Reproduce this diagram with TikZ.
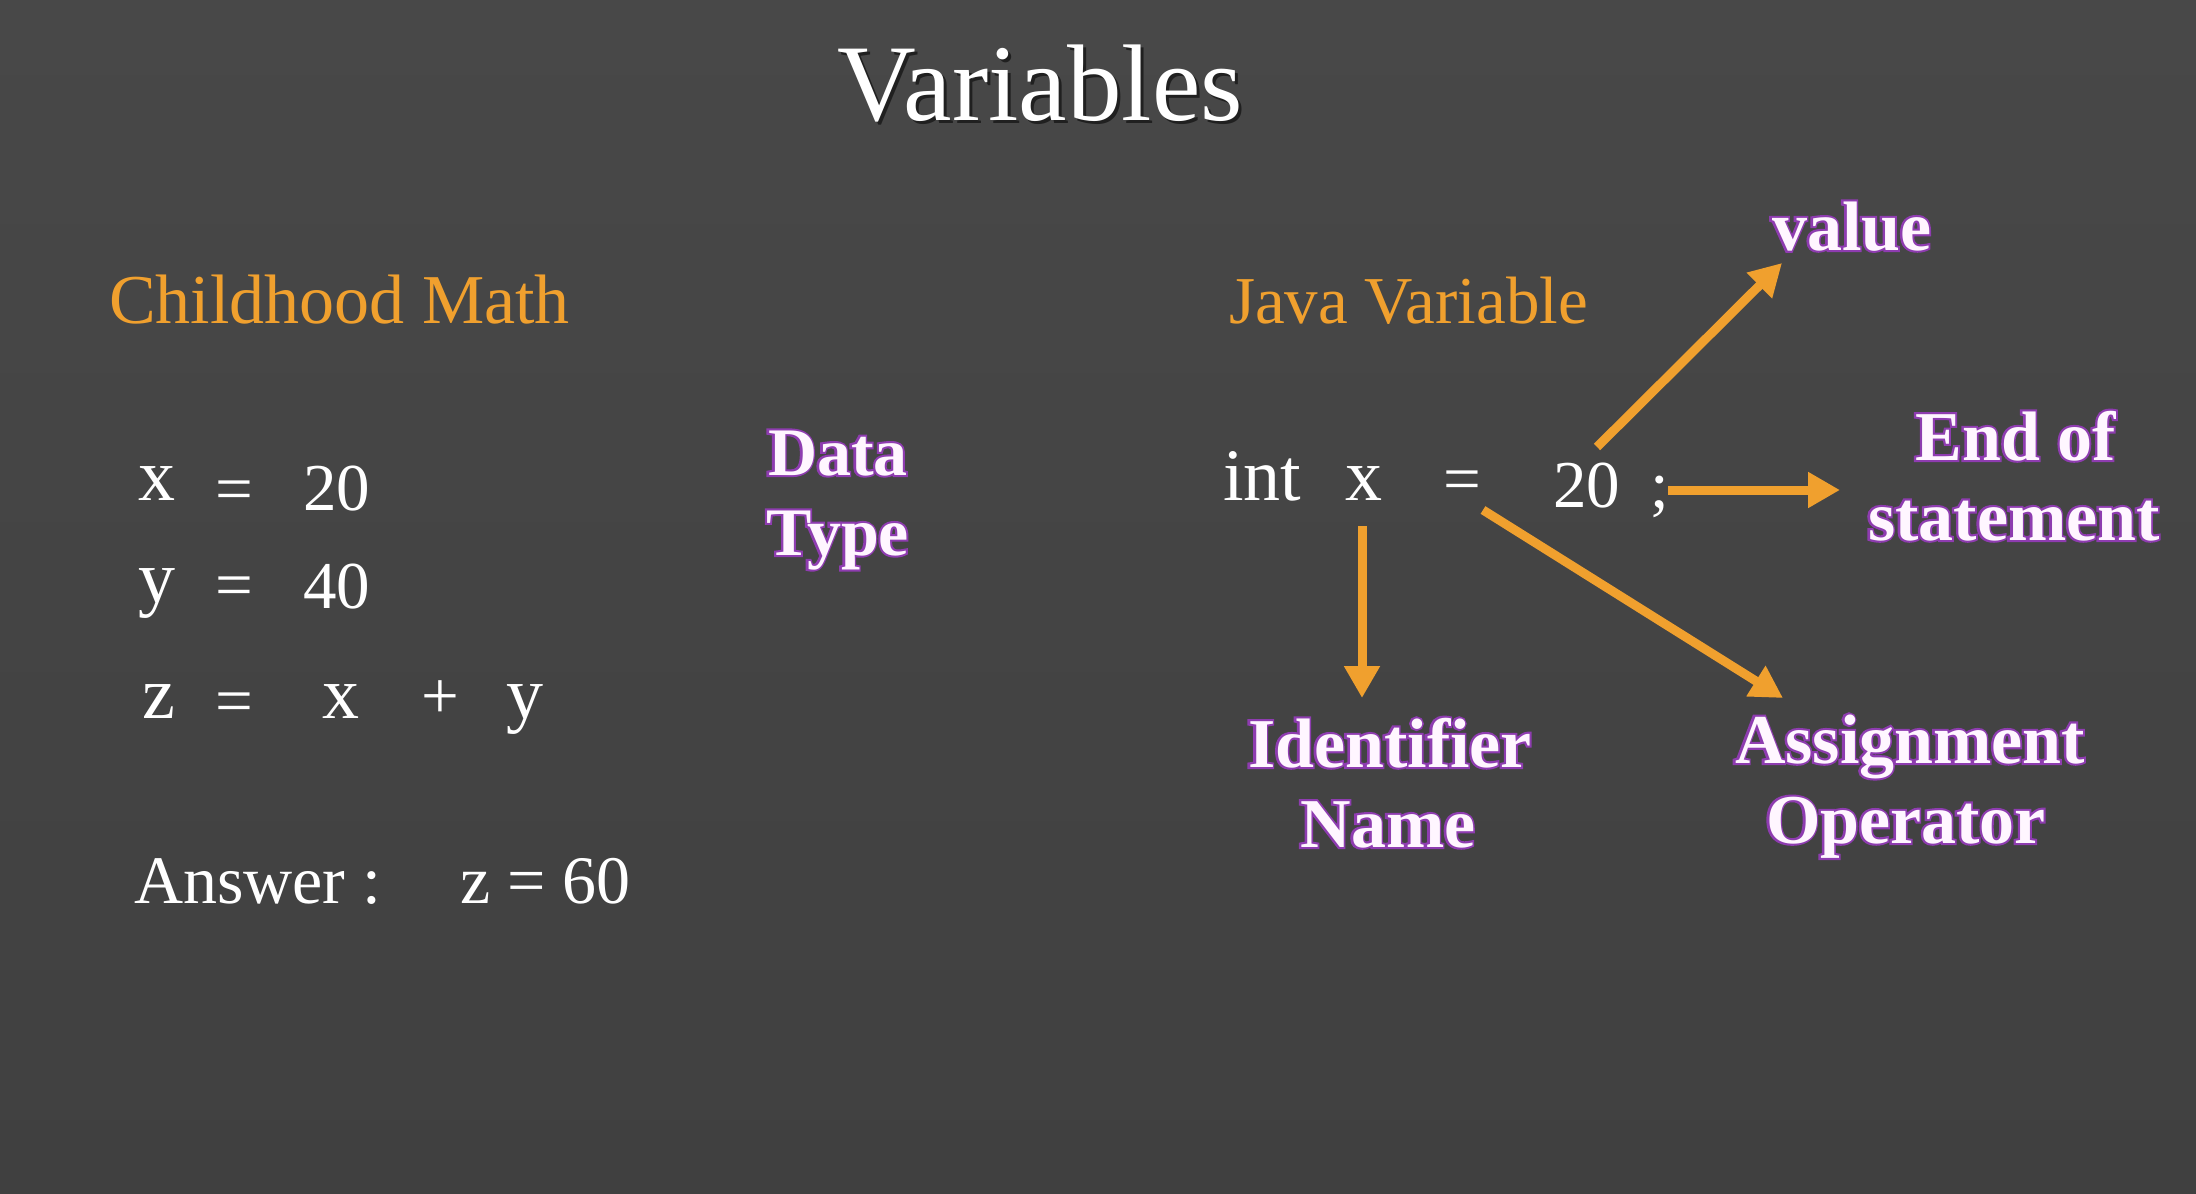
\documentclass[tikz,border=0pt]{standalone}
\usepackage{fontspec}
\setmainfont{Liberation Serif}
% emboldened copy used as the purple rim behind the label text
\newfontfamily\halofont[FakeBold=6]{Liberation Serif Bold}
\usetikzlibrary{arrows.meta}

\definecolor{bgtop}{HTML}{484848}
\definecolor{bgbot}{HTML}{404040}
\definecolor{accent}{HTML}{F0A02E}
\definecolor{halo}{HTML}{8E3CB0}
\definecolor{labelfill}{HTML}{FFF6FF}

\newcommand\fs[1]{\fontsize{#1}{#1}\selectfont}

% two-layer purple-rimmed label: name, position, size, text
\newcommand\rimlabel[4]{%
  \node[lbl, text=halo] (#1-rim) at ($(#2)+(-1,0)$) {\halofont\fs{#3}#4};
  \node[lbl, text=labelfill] (#1) at (#2) {\bfseries\fs{#3}#4};}

\usetikzlibrary{calc}

\tikzset{
  txt/.style={inner sep=0pt, outer sep=0pt, anchor=base west, text=white},
  lbl/.style={inner sep=0pt, outer sep=0pt, anchor=base},
  heading/.style={txt, text=accent},
  pointer/.style={draw=accent, line width=9pt, line cap=butt,
                  -{Triangle[length=32pt, width=34pt]}},
}

\begin{document}
\begin{tikzpicture}[x=1pt, y=-1pt]
  \useasboundingbox (0,0) rectangle (2196,1194);
  \shade[top color=bgtop, bottom color=bgbot] (0,0) rectangle (2196,1194);

  % title
  \node[lbl, text=black, opacity=0.55] (title-shadow) at (1043,123) {\fs{109}Variables};
  \node[lbl, text=white] (title) at (1040,120) {\fs{109}Variables};

  % left column: childhood maths
  \node[heading] (chm) at (109,323) {\fs{70}Childhood Math};

  \node[txt] (r1x)  at (138,500) {\fs{74}x};
  \node[txt] (r1eq) at (215,511) {\fs{67}=};
  \node[txt] (r1v)  at (303,510) {\fs{67}20};

  \node[txt] (r2y)  at (138,602) {\fs{74}y};
  \node[txt] (r2eq) at (215,607) {\fs{67}=};
  \node[txt] (r2v)  at (303,608) {\fs{67}40};

  \node[txt] (r3z)  at (142,718) {\fs{74}z};
  \node[txt] (r3eq) at (215,723) {\fs{67}=};
  \node[txt] (r3x)  at (322,718) {\fs{74}x};
  \node[txt] (r3p)  at (421,718) {\fs{67}+};
  \node[txt] (r3y)  at (506,718) {\fs{74}y};

  \node[txt] (ans)  at (134,903) {\fs{68}Answer :};
  \node[txt] (ansv) at (460,903) {\fs{68}z = 60};

  % middle: data type
  \rimlabel{dt1}{838,475}{68}{Data}
  \rimlabel{dt2}{838,555}{68}{Type}

  % right column: java declaration
  \node[heading] (java) at (1229,323) {\fs{67}Java Variable};

  \node[txt] (jint)  at (1223,500) {\fs{74}int};
  \node[txt] (jx)    at (1345,500) {\fs{74}x};
  \node[txt] (jeq)   at (1443,501) {\fs{67}=};
  \node[txt] (jval)  at (1553,507) {\fs{67}20};
  \node[txt] (jsemi) at (1650,507) {\fs{67};};

  \rimlabel{value}{1852,250}{70}{value}
  \rimlabel{eos1}{2016,460}{70}{End of}
  \rimlabel{eos2}{2014,540}{70}{statement}
  \rimlabel{idn1}{1390,767}{70}{Identifier}
  \rimlabel{idn2}{1388,847}{70}{Name}
  \rimlabel{asg1}{1910,763}{70}{Assignment}
  \rimlabel{asg2}{1906,843}{70}{Operator}

  % arrow ends
  \coordinate (v-from) at (1597,447);
  \coordinate (v-to)   at (1782,263);
  \coordinate (e-from) at (1668,490);
  \coordinate (e-to)   at (1840,490);
  \coordinate (i-from) at (1362,526);
  \coordinate (i-to)   at (1362,698);
  \coordinate (a-from) at (1483,510);
  \coordinate (a-to)   at (1783,698);

  \draw[pointer] (v-from) -- (v-to);
  \draw[pointer] (e-from) -- (e-to);
  \draw[pointer] (i-from) -- (i-to);
  \draw[pointer] (a-from) -- (a-to);
\end{tikzpicture}
\end{document}
